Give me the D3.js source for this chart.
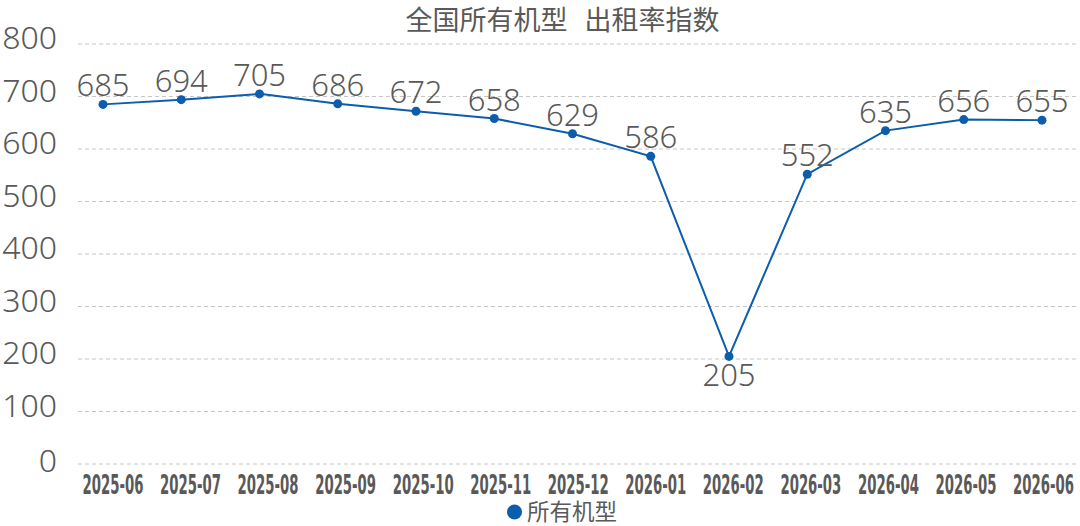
<!DOCTYPE html>
<html>
<head>
<meta charset="utf-8">
<script src="https://cdn.jsdelivr.net/npm/d3@7/dist/d3.min.js"></script>
<style>
  html, body { margin: 0; padding: 0; background: #fff; }
  svg { display: block; }
</style>
</head>
<body>
<svg id="chart" width="1080" height="526"></svg>
<script>
// ---- data ----
const months = ["2025-06","2025-07","2025-08","2025-09","2025-10","2025-11","2025-12","2026-01","2026-02","2026-03","2026-04","2026-05","2026-06"];
const values = [685, 694, 705, 686, 672, 658, 629, 586, 205, 552, 635, 656, 655];
const yTicks = [0, 100, 200, 300, 400, 500, 600, 700, 800];
const titlePart1 = "全国所有机型";
const titlePart2 = "出租率指数";
const seriesName = "所有机型";

// ---- layout ----
const plotLeft = 78, plotRight = 1076;
const textColor = "#595959";
const lineColor = "#0c5dab";

const svg = d3.select("#chart");

const y = d3.scaleLinear().domain([0, 800]).range([464, 44]);
const x = d3.scalePoint().domain(months).range([103, 1042]);
const xLab = d3.scalePoint().domain(months).range([113, 1043.5]);

// grid lines
svg.append("g").selectAll("line").data(yTicks).join("line")
  .attr("x1", plotLeft).attr("x2", plotRight)
  .attr("y1", d => y(d)).attr("y2", d => y(d))
  .attr("stroke", "#c6c6c6").attr("stroke-width", 1)
  .attr("stroke-dasharray", "4,3");

// y tick labels
svg.append("g").selectAll("text").data(yTicks).join("text")
  .attr("x", 57).attr("y", d => y(d) + (d === 0 ? 8 : 5))
  .attr("text-anchor", "end")
  .attr("font-family", "'Noto Sans', 'Open Sans', sans-serif")
  .attr("font-weight", 300)
  .attr("font-size", 32)
  .attr("fill", textColor)
  .text(d => d);

// x labels (condensed: horizontally scaled to fit width)
const labelWidth = 61;
svg.append("g").selectAll("text").data(months).join("text")
  .attr("text-anchor", "middle")
  .attr("font-family", "'Liberation Sans Narrow', 'DejaVu Sans Condensed', sans-serif")
  .attr("font-weight", "bold")
  .attr("font-size", 26)
  .attr("fill", textColor)
  .text(d => d)
  .each(function(d) {
    const w = this.getComputedTextLength();
    const sx = w > 0 ? labelWidth / w : 1;
    d3.select(this).attr("transform", `translate(${xLab(d)},494) scale(${sx},1)`);
  });

// line
const line = d3.line().x((d, i) => x(months[i])).y(d => y(d));
svg.append("path").datum(values)
  .attr("d", line)
  .attr("fill", "none")
  .attr("stroke", lineColor)
  .attr("stroke-width", 2);

// markers
svg.append("g").selectAll("circle").data(values).join("circle")
  .attr("cx", (d, i) => x(months[i])).attr("cy", d => y(d))
  .attr("r", 4.5)
  .attr("fill", lineColor);

// data labels
const minIdx = values.indexOf(d3.min(values));
svg.append("g").selectAll("text").data(values).join("text")
  .attr("x", (d, i) => x(months[i]))
  .attr("y", (d, i) => i === minIdx ? y(d) + 30 : y(d) - 8)
  .attr("text-anchor", "middle")
  .attr("font-family", "'Noto Sans', 'Open Sans', sans-serif")
  .attr("font-weight", 300)
  .attr("font-size", 31)
  .attr("fill", textColor)
  .text(d => d);

// title
const title = svg.append("text")
  .attr("x", 562.5).attr("y", 30)
  .attr("text-anchor", "middle")
  .attr("font-family", "'Noto Sans CJK SC', sans-serif")
  .attr("font-size", 27)
  .attr("fill", textColor);
title.append("tspan").text(titlePart1);
title.append("tspan").attr("dx", 17).text(titlePart2);

// legend
svg.append("circle")
  .attr("cx", 514.5).attr("cy", 512).attr("r", 7.5)
  .attr("fill", lineColor);
svg.append("text")
  .attr("x", 527).attr("y", 520)
  .attr("font-family", "'Noto Sans CJK SC', sans-serif")
  .attr("font-size", 22.5)
  .attr("fill", textColor)
  .text(seriesName);
</script>
</body>
</html>
